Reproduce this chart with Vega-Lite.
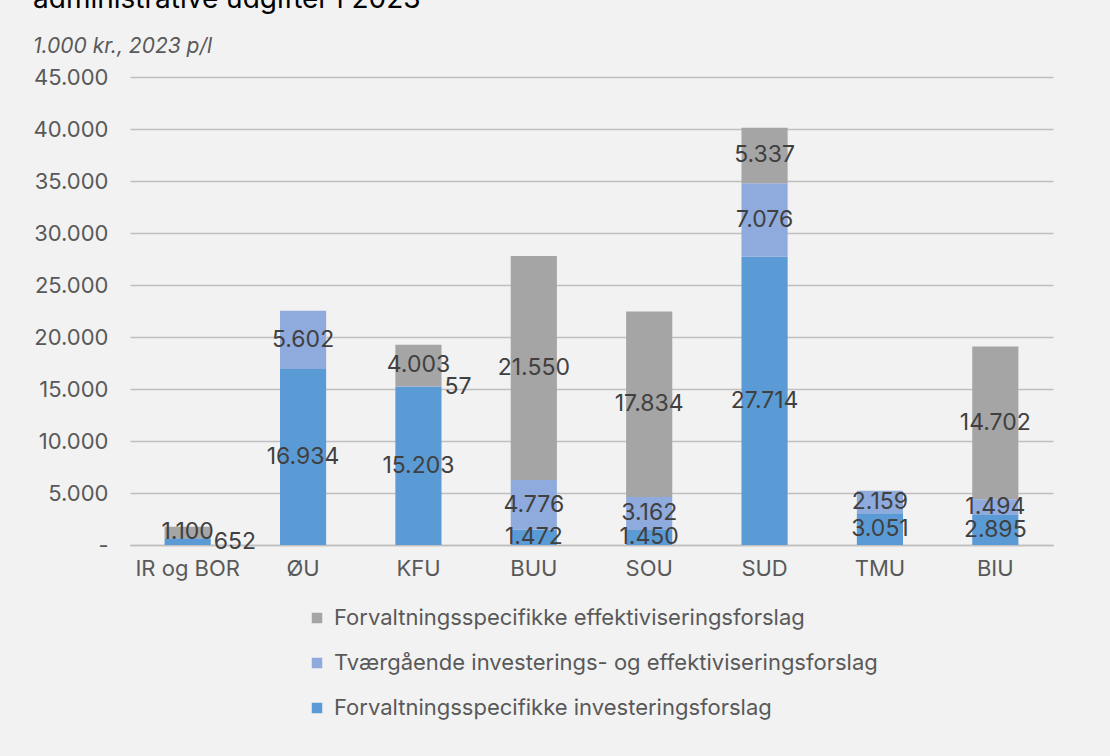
{
  "$schema": "https://vega.github.io/schema/vega-lite/v6.json",
  "width": 923,
  "height": 468,
  "autosize": {"type": "none"},
  "padding": {"left": 130, "top": 77, "right": 57, "bottom": 211},
  "background": "#f2f2f2",
  "config": {
    "locale": {"number": {"decimal": ",", "thousands": ".", "grouping": [3], "currency": ["", " kr."]}},
    "view": {"stroke": null},
    "font": "Inter"
  },
  "title": {
    "text": "administrative udgifter i 2023",
    "subtitle": "1.000 kr., 2023 p/l",
    "anchor": "start",
    "frame": "bounds",
    "fontSize": 28,
    "fontWeight": "normal",
    "color": "#000000",
    "subtitleFontSize": 21,
    "subtitleFontStyle": "italic",
    "subtitleColor": "#595959",
    "subtitlePadding": 22,
    "offset": 9
  },
  "data": {
    "values": [
      {"afd": "IR og BOR", "serie": "Forvaltningsspecifikke investeringsforslag", "k": 1, "v": 652},
      {"afd": "IR og BOR", "serie": "Forvaltningsspecifikke effektiviseringsforslag", "k": 3, "v": 1100},
      {"afd": "ØU", "serie": "Forvaltningsspecifikke investeringsforslag", "k": 1, "v": 16934},
      {"afd": "ØU", "serie": "Tværgående investerings- og effektiviseringsforslag", "k": 2, "v": 5602},
      {"afd": "KFU", "serie": "Forvaltningsspecifikke investeringsforslag", "k": 1, "v": 15203},
      {"afd": "KFU", "serie": "Tværgående investerings- og effektiviseringsforslag", "k": 2, "v": 57},
      {"afd": "KFU", "serie": "Forvaltningsspecifikke effektiviseringsforslag", "k": 3, "v": 4003},
      {"afd": "BUU", "serie": "Forvaltningsspecifikke investeringsforslag", "k": 1, "v": 1472},
      {"afd": "BUU", "serie": "Tværgående investerings- og effektiviseringsforslag", "k": 2, "v": 4776},
      {"afd": "BUU", "serie": "Forvaltningsspecifikke effektiviseringsforslag", "k": 3, "v": 21550},
      {"afd": "SOU", "serie": "Forvaltningsspecifikke investeringsforslag", "k": 1, "v": 1450},
      {"afd": "SOU", "serie": "Tværgående investerings- og effektiviseringsforslag", "k": 2, "v": 3162},
      {"afd": "SOU", "serie": "Forvaltningsspecifikke effektiviseringsforslag", "k": 3, "v": 17834},
      {"afd": "SUD", "serie": "Forvaltningsspecifikke investeringsforslag", "k": 1, "v": 27714},
      {"afd": "SUD", "serie": "Tværgående investerings- og effektiviseringsforslag", "k": 2, "v": 7076},
      {"afd": "SUD", "serie": "Forvaltningsspecifikke effektiviseringsforslag", "k": 3, "v": 5337},
      {"afd": "TMU", "serie": "Forvaltningsspecifikke investeringsforslag", "k": 1, "v": 3051},
      {"afd": "TMU", "serie": "Tværgående investerings- og effektiviseringsforslag", "k": 2, "v": 2159},
      {"afd": "BIU", "serie": "Forvaltningsspecifikke investeringsforslag", "k": 1, "v": 2895},
      {"afd": "BIU", "serie": "Tværgående investerings- og effektiviseringsforslag", "k": 2, "v": 1494},
      {"afd": "BIU", "serie": "Forvaltningsspecifikke effektiviseringsforslag", "k": 3, "v": 14702}
    ]
  },
  "transform": [
    {"stack": "v", "groupby": ["afd"], "sort": [{"field": "k", "order": "ascending"}], "as": ["v0", "v1"]},
    {"calculate": "(datum.v0 + datum.v1) / 2", "as": "mid"}
  ],
  "layer": [
    {
      "mark": {"type": "bar"},
      "encoding": {
        "x": {
          "field": "afd", "type": "nominal",
          "sort": ["IR og BOR", "ØU", "KFU", "BUU", "SOU", "SUD", "TMU", "BIU"],
          "scale": {"paddingInner": 0.6, "paddingOuter": 0.3},
          "axis": {
            "title": null, "labelAngle": 0, "labelFontSize": 22, "labelColor": "#595959",
            "labelPadding": 13, "ticks": false, "domainColor": "#bfbfbf", "domainWidth": 1.5
          }
        },
        "y": {
          "field": "v0", "type": "quantitative",
          "scale": {"domain": [0, 45000]},
          "axis": {
            "title": null,
            "values": [0, 5000, 10000, 15000, 20000, 25000, 30000, 35000, 40000, 45000],
            "labelExpr": "datum.value == 0 ? '-' : format(datum.value, ',')",
            "labelFontSize": 22, "labelColor": "#595959", "labelPadding": 22,
            "ticks": false, "domain": false,
            "grid": true, "gridColor": "#bfbfbf", "gridWidth": 1.3
          }
        },
        "y2": {"field": "v1"},
        "color": {
          "field": "serie", "type": "nominal",
          "sort": ["Forvaltningsspecifikke effektiviseringsforslag", "Tværgående investerings- og effektiviseringsforslag", "Forvaltningsspecifikke investeringsforslag"],
          "scale": {
            "domain": ["Forvaltningsspecifikke effektiviseringsforslag", "Tværgående investerings- og effektiviseringsforslag", "Forvaltningsspecifikke investeringsforslag"],
            "range": ["#a5a5a5", "#8faadc", "#5b9bd5"]
          },
          "legend": {
            "title": null, "orient": "none", "legendX": 176, "legendY": 530,
            "direction": "vertical", "symbolType": "square", "symbolSize": 110,
            "symbolStrokeWidth": 0, "labelFontSize": 22, "labelColor": "#595959",
            "labelLimit": 700, "rowPadding": 23, "labelOffset": 6
          }
        }
      }
    },
    {
      "transform": [{"filter": "datum.v >= 1000"}],
      "mark": {"type": "text", "fontSize": 23, "color": "#404040"},
      "encoding": {
        "x": {"field": "afd", "type": "nominal", "sort": ["IR og BOR", "ØU", "KFU", "BUU", "SOU", "SUD", "TMU", "BIU"]},
        "y": {"field": "mid", "type": "quantitative"},
        "text": {"field": "v", "type": "quantitative", "format": ","}
      }
    },
    {
      "transform": [{"filter": "datum.v < 1000"}],
      "mark": {"type": "text", "fontSize": 23, "color": "#404040", "align": "left", "dx": 26},
      "encoding": {
        "x": {"field": "afd", "type": "nominal", "sort": ["IR og BOR", "ØU", "KFU", "BUU", "SOU", "SUD", "TMU", "BIU"]},
        "y": {"field": "mid", "type": "quantitative"},
        "text": {"field": "v", "type": "quantitative", "format": ","}
      }
    }
  ]
}
